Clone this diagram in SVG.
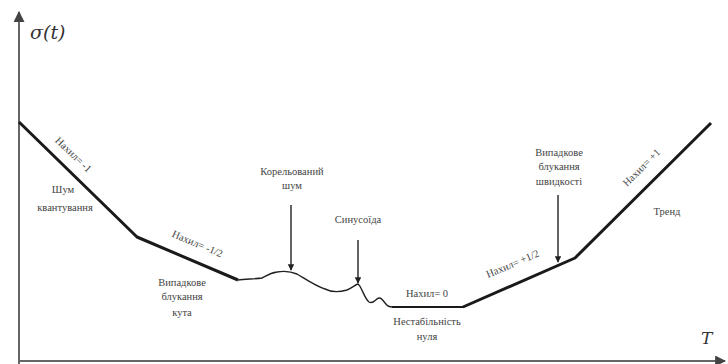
<svg xmlns="http://www.w3.org/2000/svg" width="728" height="364" viewBox="0 0 728 364">
  <defs>
    <marker id="axisHead" viewBox="0 0 10 10" refX="9" refY="5" markerWidth="5.5" markerHeight="5.5" orient="auto">
      <path d="M0,0 L10,5 L0,10 Z" fill="#444"/>
    </marker>
    <marker id="pointerHead" viewBox="0 0 10 10" refX="9" refY="5" markerWidth="4.5" markerHeight="4.5" orient="auto">
      <path d="M0,0 L10,5 L0,10 Z" fill="#222"/>
    </marker>
  </defs>
  <style>
    .lbl { font-family: "Liberation Serif", "DejaVu Serif", serif; font-size: 10.5px; fill: #444; text-anchor: middle; }
    .math { font-family: "DejaVu Serif", "Liberation Serif", serif; font-style: italic; fill: #333; }
    .axis { stroke: #666; stroke-width: 2; fill: none; }
    .curve { stroke: #1a1a1a; stroke-width: 3; fill: none; stroke-linejoin: round; }
    .wave { stroke: #222; stroke-width: 1.4; fill: none; stroke-linejoin: round; }
    .pointer { stroke: #222; stroke-width: 1.4; fill: none; }
  </style>
  <rect width="728" height="364" fill="#ffffff"/>

  <!-- axes -->
  <g id="axes">
    <path class="axis" d="M19,364 L19,12" marker-end="url(#axisHead)"/>
    <path class="axis" d="M18,361 L725,361" marker-end="url(#axisHead)"/>
    <text class="math" x="30" y="39" font-size="19">σ(t)</text>
    <text class="math" x="701" y="344" font-size="17">T</text>
  </g>

  <!-- Allan deviation curve -->
  <g id="connectors">
    <path class="curve" d="M19,122 L137,237 L238,280"/>
    <path class="wave" d="M238,280 C245,279 255,279 262,278 C266,276 270,273 277,272 C283,271 290,271 297,274 C304,278 315,286 325,289 C333,293 340,292 347,290 C352,288 355,285 358,284 C362,287 364,298 369,302 C374,305 376,297 380,298 C383,299 384,303 388,306 C390,307 391,307 393,307"/>
    <path class="curve" d="M392,307 L464,307" style="stroke-width:2.2"/>
    <path class="curve" d="M463,307 L575,258 L711,123"/>
    <path class="pointer" d="M291,205 L291,270" marker-end="url(#pointerHead)"/>
    <path class="pointer" d="M358,240 L358,283" marker-end="url(#pointerHead)"/>
    <path class="pointer" d="M558,195 L558,262" marker-end="url(#pointerHead)"/>
  </g>

  <!-- region labels -->
  <g id="quantization">
    <text class="lbl" transform="translate(71,157) rotate(44)">Нахил= -1</text>
    <text class="lbl" x="63" y="193">Шум</text>
    <text class="lbl" x="65" y="211">квантування</text>
  </g>
  <g id="angle-random-walk">
    <text class="lbl" transform="translate(196,247) rotate(23)">Нахил= -1/2</text>
    <text class="lbl" x="182" y="286">Випадкове</text>
    <text class="lbl" x="182" y="300">блукання</text>
    <text class="lbl" x="182" y="316">кута</text>
  </g>
  <g id="correlated-noise">
    <text class="lbl" x="292" y="175">Корельований</text>
    <text class="lbl" x="292" y="189">шум</text>
  </g>
  <g id="sinusoid">
    <text class="lbl" x="358" y="223">Синусоїда</text>
  </g>
  <g id="bias-instability">
    <text class="lbl" x="427" y="297">Нахил= 0</text>
    <text class="lbl" x="427" y="325">Нестабільність</text>
    <text class="lbl" x="427" y="340">нуля</text>
  </g>
  <g id="rate-random-walk">
    <text class="lbl" transform="translate(514,267) rotate(-23)">Нахил= +1/2</text>
    <text class="lbl" x="559" y="156">Випадкове</text>
    <text class="lbl" x="559" y="170">блукання</text>
    <text class="lbl" x="559" y="185">швидкості</text>
  </g>
  <g id="trend">
    <text class="lbl" transform="translate(644,170) rotate(-45)">Нахил= +1</text>
    <text class="lbl" x="667" y="215">Тренд</text>
  </g>
</svg>
